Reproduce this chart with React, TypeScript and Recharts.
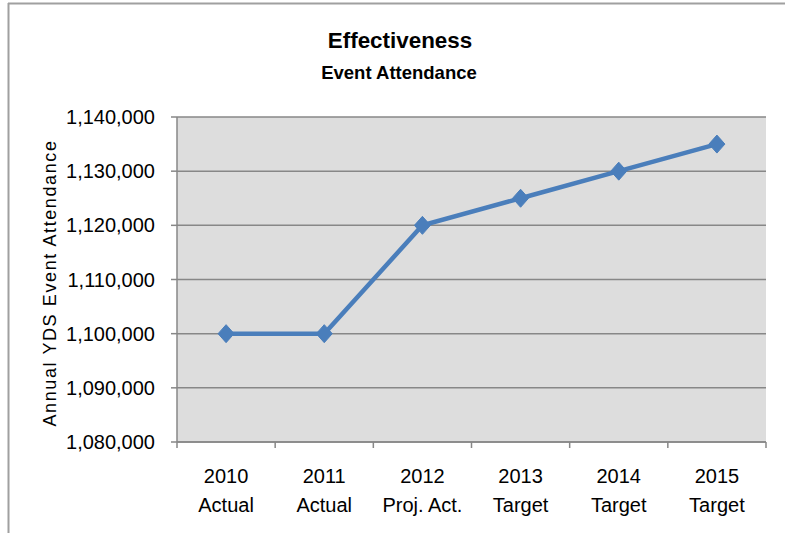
import React from 'react';
import { LineChart, Line, XAxis, YAxis, CartesianGrid } from 'recharts';

const years = ['2010', '2011', '2012', '2013', '2014', '2015'];
const statuses = ['Actual', 'Actual', 'Proj. Act.', 'Target', 'Target', 'Target'];
const attendance = [1100000, 1100000, 1120000, 1125000, 1130000, 1135000];
const yTicks = [1080000, 1090000, 1100000, 1110000, 1120000, 1130000, 1140000];
const title = 'Effectiveness';
const subtitle = 'Event Attendance';
const yAxisLabel = 'Annual YDS Event Attendance';

const data = years.map((y, i) => ({ pos: i + 0.5, year: y, status: statuses[i], value: attendance[i] }));
const xTicks = Array.from({ length: years.length * 2 + 1 }, (_, k) => k / 2);

const FONT = '"Liberation Sans", Arial, sans-serif';
const AXIS = '#878787';
const LINE = '#4A7EBB';

const XTick = (props: any) => {
  const { x, y, payload } = props;
  const v = payload.value as number;
  if (Number.isInteger(v)) {
    return <line x1={x} y1={y} x2={x} y2={y + 6} stroke={AXIS} strokeWidth={1.5} />;
  }
  const i = Math.floor(v);
  return (
    <g>
      <text x={x} y={y + 41} textAnchor="middle" fontFamily={FONT} fontSize={20} fill="#000">{years[i]}</text>
      <text x={x} y={y + 70} textAnchor="middle" fontFamily={FONT} fontSize={20} fill="#000">{statuses[i]}</text>
    </g>
  );
};

const Diamond = (props: any) => {
  const { cx, cy, index } = props;
  if (cx == null || cy == null) return <g key={`d${index}`} />;
  const w = 8, h = 9;
  return (
    <polygon
      key={`d${index}`}
      points={`${cx},${cy - h} ${cx + w},${cy} ${cx},${cy + h} ${cx - w},${cy}`}
      fill={LINE}
      stroke={LINE}
      strokeWidth={1}
    />
  );
};

export default function App() {
  return (
    <div style={{ position: 'absolute', left: 0, top: 0, width: 785, height: 533, background: '#fff' }}>
      <LineChart
        width={785}
        height={533}
        data={data}
        margin={{ top: 117, right: 19, left: 77, bottom: 31 }}
      >
        <CartesianGrid vertical={false} fill="#DDDDDD" stroke={AXIS} strokeWidth={1.5} />
        <XAxis
          type="number"
          dataKey="pos"
          domain={[0, years.length]}
          ticks={xTicks}
          interval={0}
          height={60}
          tickSize={0}
          tickMargin={0}
          tickLine={false}
          axisLine={{ stroke: AXIS, strokeWidth: 1.5 }}
          tick={<XTick />}
        />
        <YAxis
          type="number"
          domain={[yTicks[0], yTicks[yTicks.length - 1]]}
          ticks={yTicks}
          interval={0}
          width={100}
          tickSize={6}
          tickMargin={16}
          tickLine={{ stroke: AXIS, strokeWidth: 1.5 }}
          axisLine={{ stroke: AXIS, strokeWidth: 1.5 }}
          tick={{ fill: '#000', fontSize: 20, fontFamily: FONT }}
          tickFormatter={(v: number) => v.toLocaleString('en-US')}
        />
        <Line
          type="linear"
          dataKey="value"
          stroke={LINE}
          strokeWidth={4.5}
          dot={Diamond}
          activeDot={false}
          isAnimationActive={false}
        />
      </LineChart>
      <svg width={785} height={533} style={{ position: 'absolute', left: 0, top: 0, pointerEvents: 'none' }}>
        <line x1={8.5} y1={3} x2={8.5} y2={533} stroke="#A0A0A0" strokeWidth={2} />
        <line x1={8} y1={3.5} x2={785} y2={3.5} stroke="#A0A0A0" strokeWidth={2} />
        <text x={400} y={48} textAnchor="middle" fontFamily={FONT} fontWeight="bold" fontSize={22.4} fill="#000">{title}</text>
        <text x={399} y={79} textAnchor="middle" fontFamily={FONT} fontWeight="bold" fontSize={18.5} fill="#000">{subtitle}</text>
        <text
          x={0}
          y={0}
          transform="translate(56, 283) rotate(-90)"
          textAnchor="middle"
          fontFamily={FONT}
          fontSize={18}
          letterSpacing={1.6}
          fill="#000"
        >
          {yAxisLabel}
        </text>
      </svg>
    </div>
  );
}
